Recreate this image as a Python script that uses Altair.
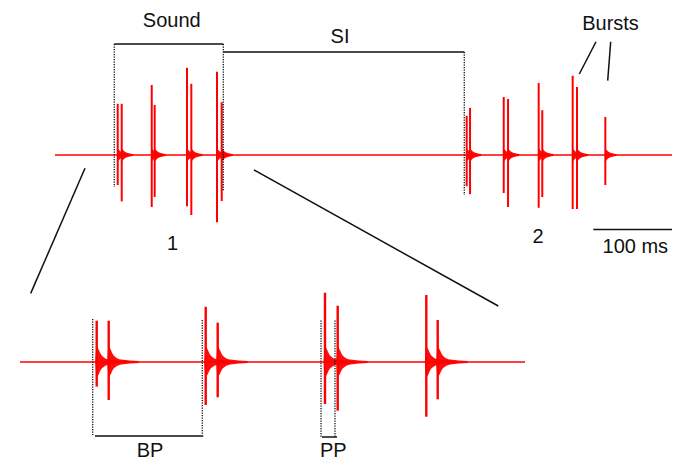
import altair as alt
import pandas as pd

RED = "#ff0000"
FONT = "Liberation Sans"

# ---------------- top recording (time in ms, amplitude in relative units) -------------
TOP_T = [78.4, 83.4, 120.9, 124.6, 165.0, 170.4, 202.5, 208.4,
         514.6, 518.8, 560.9, 566.3, 604.6, 609.1, 647.1, 652.5, 687.9]
TOP_HI = [0.64, 0.64, 0.875, 0.625, 1.09, 0.89, 1.04, 0.66,
          0.49, 0.59, 0.725, 0.70, 0.90, 0.56, 0.99, 0.85, 0.475]
TOP_LO = [-0.375, -0.58, -0.65, -0.525, -0.64, -0.75, -0.84, -0.575,
          -0.39, -0.49, -0.475, -0.65, -0.66, -0.525, -0.675, -0.675, -0.375]
TOP_SPAN = [0.0, 773.75]
# envelope of the ringing after each spike: offset (ms) and half-height
TOP_RING_DT = [-0.6, 0.0, 4.0, 14.0]
TOP_RING_A = [0.0, 0.075, 0.04, 0.012]

# annotations of the top recording
TOP_DOT_X = [74.1, 210.4, 511.6]
TOP_DOT_Y1 = [1.3875, 1.3875, 1.2875]
TOP_DOT_Y2 = [-0.40, -0.45, -0.50]
TOP_SEG_X1 = [74.1, 210.4, 672.9, 37.5, 248.75, 676.25, 694.6]
TOP_SEG_Y1 = [1.3875, 1.2875, -0.93, -0.166, -0.1875, 1.416, 1.416]
TOP_SEG_X2 = [210.4, 511.6, 772.9, -30.4, 554.1, 655.4, 690.9]
TOP_SEG_Y2 = [1.3875, 1.2875, -0.93, -1.73, -1.8875, 1.0125, 0.929]
TOP_LABELS = ["Sound", "SI", "1", "2", "100 ms", "Bursts"]
TOP_LAB_X = [145.9, 356.25, 147.1, 603.75, 725.4, 694.4]
TOP_LAB_Y = [1.68, 1.479, -1.1125, -1.025, -1.156, 1.635]

# ---------------- expanded recording (time in ms) -------------
BOT_T = [30.68, 35.48, 74.28, 79.08, 122.0, 127.08, 162.52, 167.08]
BOT_HI = [0.688, 0.688, 0.92, 0.655, 1.155, 0.938, 1.117, 0.70]
BOT_LO = [-0.41, -0.633, -0.717, -0.588, -0.70, -0.812, -0.912, -0.622]
BOT_SPAN = [0.0, 202.0]
BOT_RING_DT = [-0.6, 0.0, 2.0, 5.0, 12.0]
BOT_RING_A = [0.0, 0.25, 0.11, 0.04, 0.015]

BOT_DOT_X = [29.08, 72.92, 120.4, 126.0]
BOT_DOT_Y1 = [0.717, 0.70, 0.69, 0.69]
BOT_DOT_Y2 = [-1.217, -1.217, -1.245, -1.245]
BOT_SEG_X1 = [30.0, 120.8]
BOT_SEG_Y1 = [-1.233, -1.25]
BOT_SEG_X2 = [73.3, 126.8]
BOT_SEG_Y2 = [-1.233, -1.25]
BOT_LABELS = ["BP", "PP"]
BOT_LAB_X = [52.0, 125.3]
BOT_LAB_Y = [-1.49, -1.49]

W, H = 664, 454


def panel(x_dom, y_dom, T, HI, LO, SPAN, RDT, RA, DX, DY1, DY2, SX1, SY1, SX2, SY2,
          LABS, LX, LY, spike_w):
    xs = alt.Scale(domain=x_dom, nice=False, zero=False)
    ys = alt.Scale(domain=y_dom, nice=False, zero=False)
    X = lambda f: alt.X(f, type="quantitative", scale=xs, axis=None)
    Y = lambda f: alt.Y(f, type="quantitative", scale=ys, axis=None)

    base = alt.Chart(pd.DataFrame({"t": SPAN, "a": [0.0, 0.0]})).mark_line(
        color=RED, strokeWidth=1.5).encode(x=X("t"), y=Y("a"))

    rows = []
    for i, t in enumerate(T):
        for dt, a in zip(RDT, RA):
            rows.append({"k": i, "t": t + dt, "hi": a, "lo": -a})
    ring = alt.Chart(pd.DataFrame(rows)).mark_area(
        color=RED, opacity=0.95, interpolate="monotone").encode(
        x=X("t"), y=Y("hi"), y2="lo", detail="k:N")

    spikes = alt.Chart(pd.DataFrame({"t": T, "hi": HI, "lo": LO})).mark_rule(
        color=RED, strokeWidth=spike_w).encode(x=X("t"), y=Y("hi"), y2="lo")

    dots = alt.Chart(pd.DataFrame({"x": DX, "y1": DY1, "y2": DY2})).mark_rule(
        color="#111111", strokeWidth=1.3, strokeDash=[1.2, 1.3]).encode(
        x=X("x"), y=Y("y1"), y2="y2")

    segs = alt.Chart(pd.DataFrame({"x1": SX1, "y1": SY1, "x2": SX2, "y2": SY2})).mark_rule(
        color="#111111", strokeWidth=1.5).encode(
        x=X("x1"), y=Y("y1"), x2="x2", y2="y2")

    labels = alt.Chart(pd.DataFrame({"s": LABS, "x": LX, "y": LY})).mark_text(
        font=FONT, fontSize=20, color="#111111", align="center", baseline="middle").encode(
        x=X("x"), y=Y("y"), text="s:N")

    return alt.layer(base, ring, spikes, dots, segs, labels)


# page x runs 8..672, page y runs 8..462
top = panel([-58.75, 771.25], [-3.8375, 1.8375], TOP_T, TOP_HI, TOP_LO, TOP_SPAN,
            TOP_RING_DT, TOP_RING_A,
            TOP_DOT_X, TOP_DOT_Y1, TOP_DOT_Y2, TOP_SEG_X1, TOP_SEG_Y1, TOP_SEG_X2, TOP_SEG_Y2,
            TOP_LABELS, TOP_LAB_X, TOP_LAB_Y, 2.0)
bottom = panel([-4.8, 260.8], [-1.6667, 5.9], BOT_T, BOT_HI, BOT_LO, BOT_SPAN,
               BOT_RING_DT, BOT_RING_A,
               BOT_DOT_X, BOT_DOT_Y1, BOT_DOT_Y2, BOT_SEG_X1, BOT_SEG_Y1, BOT_SEG_X2, BOT_SEG_Y2,
               BOT_LABELS, BOT_LAB_X, BOT_LAB_Y, 2.4)

chart = alt.layer(top, bottom).resolve_scale(x="independent", y="independent").properties(
    width=W, height=H, padding=0, autosize="none", background="white"
).configure_view(stroke=None)

chart.save("out.html", embed_options={"renderer": "svg", "actions": False})
